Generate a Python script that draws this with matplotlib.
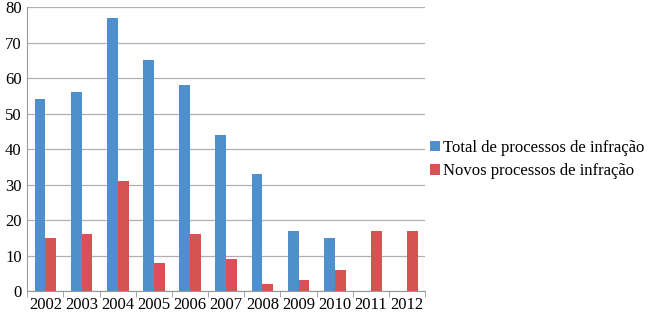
import numpy as np
import matplotlib.pyplot as plt

plt.rcParams['font.family'] = ['Liberation Serif', 'DejaVu Serif']

years = ["2002", "2003", "2004", "2005", "2006", "2007", "2008", "2009", "2010", "2011", "2012"]
total = [54, 56, 77, 65, 58, 44, 33, 17, 15, 0, 0]
novos = [15, 16, 31, 8, 16, 9, 2, 3, 6, 17, 17]

fig = plt.figure(figsize=(6.5, 3.13), dpi=100)
ax = fig.add_axes([0.042, 0.07, 0.612, 0.907])

x = np.arange(len(years))
w = 0.3
b1 = ax.bar(x - w / 2, total, w, color='#4F8FCC', label='Total de processos de infração', zorder=3)
b2 = ax.bar(x + w / 2, novos, w, color='#D55353', label='Novos processos de infração', zorder=3)

ax.set_xlim(-0.5, len(years) - 0.5)
ax.set_ylim(0, 80)
ax.set_yticks(range(0, 81, 10))
ax.yaxis.grid(True, color='#B0B0B0', linewidth=0.9, zorder=0)
ax.set_xticks(x)
ax.set_xticklabels(years)
ax.set_xticks(np.arange(-0.5, len(years), 1), minor=True)
ax.tick_params(axis='x', which='major', length=0, labelsize=12, pad=4)
ax.tick_params(axis='x', which='minor', length=4, color='#999999')
ax.tick_params(axis='y', length=0, labelsize=12, pad=4)

for s in ['top', 'right']:
    ax.spines[s].set_visible(False)
ax.spines['left'].set_color('#999999')
ax.spines['bottom'].set_color('#999999')

fig.legend(handles=[b1, b2], loc='center left', bbox_to_anchor=(0.638, 0.49),
           frameon=False, fontsize=12, handlelength=0.6, handleheight=0.6,
           handletextpad=0.2, labelspacing=0.45)

fig.savefig('out.png', dpi=100)
